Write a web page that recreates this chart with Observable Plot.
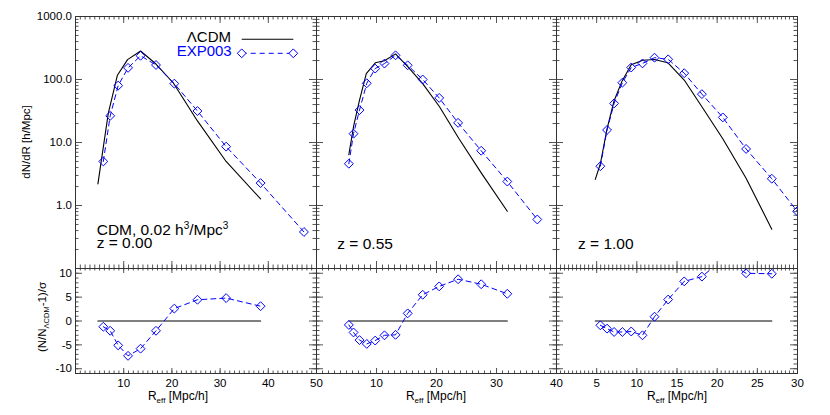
<!DOCTYPE html>
<html><head><meta charset="utf-8">
<script src="https://cdn.jsdelivr.net/npm/d3@7"></script>
<script src="https://cdn.jsdelivr.net/npm/@observablehq/plot@0.6"></script>
<style>
body{margin:0;background:#fff;}
#chart{position:relative;width:830px;height:415px;font-family:"Liberation Sans",Arial,Helvetica,sans-serif;}
#chart svg{position:absolute;overflow:visible;}
</style></head><body><div id="chart"></div>
<script>
// ---- data ----
const redshifts = ["0.00", "0.55", "1.00"];
const xMax = [50, 40, 30];
const xMinorStep = [1, 1, 0.5];
const xMajor = [[0,10,20,30,40,50],[0,10,20,30,40],[0,5,10,15,20,25,30]];
const xLabels = [[10,20,30,40,50],[10,20,30,40],[5,10,15,20,25,30]];
const yTopMajor = [0.1, 1, 10, 100, 1000];
const yTopLabels = [1000, 100, 10, 1];
const yBotMajor = [-10, -5, 0, 5, 10];

// z = 0.00
const lcdmR0 = [4.65, 6.8, 8.7, 10.8, 13.5, 16.7, 20.3, 25.3, 31.25, 38.4];
const lcdmN0 = [2.2, 29, 117, 207, 283, 176, 88, 22, 5.0, 1.27];
const expR0 = [5.77, 7.2, 8.85, 10.9, 13.5, 16.7, 20.5, 25.3, 31.25, 38.4, 47.4];
const expN0 = [5.0, 26.5, 80, 153, 238, 170, 86, 31.6, 8.6, 2.27, 0.38];
const sigR0 = [5.77, 7.2, 8.85, 10.9, 13.5, 16.7, 20.5, 25.3, 31.25, 38.4];
const sig0 = [-1.2, -2.05, -5.1, -7.3, -5.8, -2.05, 2.6, 4.45, 4.8, 3.1];

// z = 0.55
const lcdmR1 = [5.39, 6.17, 7.17, 8.3, 9.8, 11.33, 13.17, 15.2, 17.7, 20.5, 23.7, 27.45, 31.8];
const lcdmN1 = [6.4, 17.8, 47, 124, 184, 198, 255, 160, 86, 37, 11.7, 3.3, 0.81];
const expR1 = [5.39, 6.17, 7.17, 8.38, 9.78, 11.33, 13.17, 15.2, 17.7, 20.45, 23.6, 27.45, 31.8, 36.8];
const expN1 = [4.6, 13.8, 32.7, 87, 149, 179, 242, 168, 100, 51, 20.5, 7.4, 2.4, 0.6];
const sigR1 = [5.39, 6.17, 7.17, 8.38, 9.78, 11.33, 13.17, 15.2, 17.7, 20.45, 23.6, 27.45, 31.8];
const sig1 = [-0.82, -2.4, -4.0, -4.8, -4.1, -3.0, -2.9, 1.6, 5.5, 7.25, 8.75, 7.7, 5.7];

// z = 1.00
const lcdmR2 = [4.83, 5.46, 6.29, 7.17, 8.17, 9.3, 10.75, 12.2, 13.85, 15.9, 18.1, 20.7, 23.6, 26.8];
const lcdmN2 = [2.6, 4.6, 16.5, 46, 95, 172, 202, 208, 185, 98, 37, 11.5, 2.7, 0.42];
const expR2 = [5.46, 6.29, 7.17, 8.2, 9.3, 10.7, 12.2, 13.9, 15.9, 18.1, 20.7, 23.6, 26.8, 29.96];
const expN2 = [4.2, 15.8, 41.7, 89, 155, 180, 222, 209, 126, 58.6, 25, 7.9, 2.66, 0.81];
const sigR2 = [5.46, 6.29, 7.17, 8.2, 9.3, 10.7, 12.2, 13.9, 15.9, 18.1, 20.7, 23.6, 26.8];
const sig2 = [-0.9, -1.6, -2.3, -2.3, -2.2, -3.0, 0.9, 4.5, 8.3, 9.3, 12.9, 10.0, 9.9];

// ---- build ----
const panels = [
  {lcdmR: lcdmR0, lcdmN: lcdmN0, expR: expR0, expN: expN0, sigR: sigR0, sig: sig0},
  {lcdmR: lcdmR1, lcdmN: lcdmN1, expR: expR1, expN: expN1, sigR: sigR1, sig: sig1},
  {lcdmR: lcdmR2, lcdmN: lcdmN2, expR: expR2, expN: expN2, sigR: sigR2, sig: sig2}
];
const lefts = [75, 316, 556];
const widths = [241, 240, 241];
const TOP = 16, TOPH = 252, BOTH = 105;
const BLUE = "#0000ff";
const TC = "#555";
const FONT = "Liberation Sans, Arial, Helvetica, sans-serif";
const chart = document.getElementById("chart");

// inward-pointing ticks on all four sides (short rules from each edge)
function xTicks(vals, size, H) {
  return [
    Plot.ruleX(vals, {x: d => d, insetTop: H - size, stroke: TC, strokeWidth: 1}),
    Plot.ruleX(vals, {x: d => d, insetBottom: H - size, stroke: TC, strokeWidth: 1})
  ];
}
function yTicks(vals, size, W) {
  return [
    Plot.ruleY(vals, {y: d => d, insetRight: W - size, stroke: TC, strokeWidth: 1}),
    Plot.ruleY(vals, {y: d => d, insetLeft: W - size, stroke: TC, strokeWidth: 1})
  ];
}

function mk(c, row) {
  const p = panels[c];
  const top = row === 0;
  const W = widths[c], H = top ? TOPH : BOTH;
  const xMinor = d3.range(0, xMax[c] + 1e-9, xMinorStep[c]);
  const yMinor = top ? d3.range(-1, 3).flatMap(e => d3.range(2, 10).map(k => k * Math.pow(10, e)))
                     : d3.range(-11, 12);
  const yMaj = top ? yTopMajor : yBotMajor;
  const xT = top ? 7 : 5;
  const marks = [
    ...xTicks(xMinor, xT / 2, H), ...xTicks(xMajor[c], xT, H),
    ...yTicks(yMinor, 3.5, W), ...yTicks(yMaj, 7, W)
  ];
  const lcdm = p.lcdmR.map((r, i) => ({R: r, v: p.lcdmN[i]}));
  if (top) {
    const exp = p.expR.map((r, i) => ({R: r, v: p.expN[i]}));
    marks.push(
      Plot.line(lcdm, {x: "R", y: "v", stroke: "#000", strokeWidth: 1.1, clip: true}),
      Plot.line(exp, {x: "R", y: "v", stroke: BLUE, strokeWidth: 1, strokeDasharray: "5,4", clip: true}),
      Plot.dot(exp, {x: "R", y: "v", symbol: "diamond2", r: 4, stroke: BLUE, fill: "none", strokeWidth: 1, clip: true})
    );
  } else {
    const zero = p.lcdmR.map(r => ({R: r, v: 0}));
    const sg = p.sigR.map((r, i) => ({R: r, v: p.sig[i]}));
    marks.push(
      Plot.line(zero, {x: "R", y: "v", stroke: "#000", strokeWidth: 1.2, clip: true}),
      Plot.line(sg, {x: "R", y: "v", stroke: BLUE, strokeWidth: 1, strokeDasharray: "5,4", clip: true}),
      Plot.dot(sg, {x: "R", y: "v", symbol: "diamond2", r: 4, stroke: BLUE, fill: "none", strokeWidth: 1, clip: true})
    );
    marks.push(Plot.axisX({anchor: "bottom", ticks: xLabels[c], tickSize: 0, tickPadding: 5,
      tickFormat: d => String(d), label: null, fontSize: 11.5, fill: "#000"}));
  }
  if (c === 0) {
    marks.push(Plot.axisY({anchor: "left", ticks: top ? yTopLabels : yBotMajor, tickSize: 0, tickPadding: 3.5,
      tickFormat: top ? (d => d.toFixed(1)) : (d => d < 0 ? "-" + (-d) : String(d)),
      label: null, fontSize: 11.5, fill: "#000"}));
  }
  marks.push(Plot.frame({stroke: "#333", strokeWidth: 1}));
  const svg = Plot.plot({
    width: W, height: H,
    marginLeft: 0, marginRight: 0, marginTop: 0, marginBottom: 0,
    x: {domain: [0, xMax[c]], axis: null},
    y: top ? {type: "log", domain: [0.1, 1000], axis: null} : {domain: [-11, 11], axis: null},
    style: {overflow: "visible", background: "transparent", fontFamily: FONT, fontSize: "11.5px", color: "#000"},
    marks
  });
  svg.style.position = "absolute";
  svg.style.left = lefts[c] + "px";
  svg.style.top = (top ? TOP : TOP + TOPH) + "px";
  svg.style.maxWidth = "none";
  chart.appendChild(svg);
}
for (let c = 0; c < 3; c++) { mk(c, 0); mk(c, 1); }

// ---- annotations, titles, legend ----
const zLeft = [96.7, 337.3, 578];
const xTitleCenter = [178, 436, 677];
let ann = `<svg width="830" height="415" style="left:0;top:0;pointer-events:none" font-family="${FONT}">`;
ann += `<text transform="translate(29.5,142) rotate(-90)" text-anchor="middle" font-size="11.5">dN/dR [h/Mpc]</text>`;
ann += `<text transform="translate(45.5,317) rotate(-90)" text-anchor="middle" font-size="11.5">(N/N<tspan font-size="7.5" dy="3">ΛCDM</tspan><tspan dy="-3">-1)/σ</tspan></text>`;
for (let c = 0; c < 3; c++) {
  ann += `<text x="${xTitleCenter[c]}" y="400" text-anchor="middle" font-size="12">R<tspan font-size="8" dy="3">eff</tspan><tspan dy="-3"> [Mpc/h]</tspan></text>`;
  ann += `<text x="${zLeft[c]}" y="${c === 0 ? 248 : 249}" font-size="15.5">z = ${redshifts[c]}</text>`;
}
ann += `<text x="${zLeft[0]}" y="235" font-size="15.5">CDM, 0.02 h<tspan font-size="10" dy="-6">3</tspan><tspan dy="6">/Mpc</tspan><tspan font-size="10" dy="-6">3</tspan></text>`;
// legend
ann += `<text x="231" y="42" text-anchor="end" font-size="15" fill="#000">ΛCDM</text>`;
ann += `<line x1="241.7" x2="293.3" y1="39.3" y2="39.3" stroke="#000" stroke-width="1.1"/>`;
ann += `<text x="231.7" y="56" text-anchor="end" font-size="15" fill="${BLUE}">EXP003</text>`;
ann += `<line x1="241.7" x2="293.3" y1="53.3" y2="53.3" stroke="${BLUE}" stroke-width="1" stroke-dasharray="5,4"/>`;
const dia = (cx, cy) => `<path d="M${cx},${cy-4.4}L${cx+4.4},${cy}L${cx},${cy+4.4}L${cx-4.4},${cy}Z" fill="#fff" stroke="${BLUE}" stroke-width="1"/>`;
ann += dia(241.7, 53.3) + dia(293.3, 53.3);
ann += `</svg>`;
chart.insertAdjacentHTML("beforeend", ann);
</script>
</body></html>
